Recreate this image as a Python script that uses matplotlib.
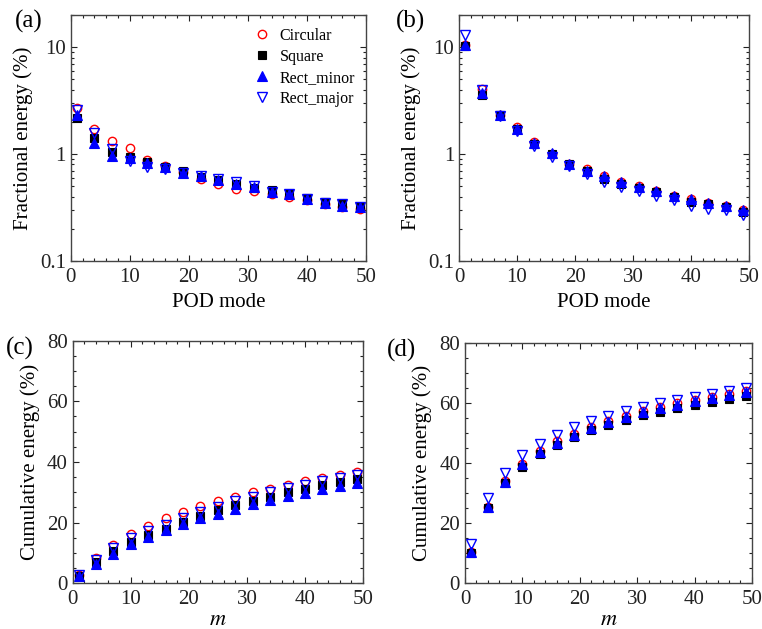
"""POD fractional and cumulative energy, four panels."""

import matplotlib

matplotlib.use("Agg")
import matplotlib.pyplot as plt
from matplotlib.ticker import FixedLocator, FuncFormatter, LogLocator, MultipleLocator, NullFormatter

plt.rcParams["font.family"] = ["Liberation Serif", "DejaVu Serif"]
plt.rcParams["mathtext.fontset"] = "stix"

modes = [1, 4, 7, 10, 13, 16, 19, 22, 25, 28, 31, 34, 37, 40, 43, 46, 49]
labels = ["Circular", "Square", "Rect_minor", "Rect_major"]

# (a) fractional energy
frac_a_circular = [2.7, 1.70, 1.32, 1.14, 0.89, 0.77, 0.68, 0.59, 0.53, 0.47, 0.45, 0.42, 0.40, 0.37, 0.34, 0.32, 0.31]
frac_a_square = [2.2, 1.42, 1.05, 0.94, 0.84, 0.76, 0.70, 0.61, 0.57, 0.52, 0.48, 0.46, 0.42, 0.39, 0.36, 0.34, 0.32]
frac_a_minor = [2.3, 1.28, 0.97, 0.92, 0.83, 0.75, 0.67, 0.62, 0.57, 0.52, 0.49, 0.44, 0.42, 0.38, 0.35, 0.33, 0.32]
frac_a_major = [2.6, 1.59, 1.11, 0.86, 0.76, 0.73, 0.66, 0.62, 0.59, 0.55, 0.50, 0.44, 0.42, 0.38, 0.35, 0.34, 0.32]

# (b) fractional energy
frac_b_circular = [10.5, 4.1, 2.30, 1.78, 1.30, 1.00, 0.80, 0.72, 0.62, 0.55, 0.50, 0.45, 0.41, 0.38, 0.35, 0.33, 0.30]
frac_b_square = [10.2, 3.6, 2.30, 1.70, 1.25, 1.00, 0.80, 0.70, 0.58, 0.53, 0.48, 0.44, 0.40, 0.36, 0.34, 0.32, 0.29]
frac_b_minor = [10.5, 3.7, 2.30, 1.72, 1.27, 1.02, 0.81, 0.70, 0.63, 0.55, 0.49, 0.45, 0.41, 0.38, 0.35, 0.33, 0.30]
frac_b_major = [13.0, 4.0, 2.25, 1.65, 1.18, 0.95, 0.77, 0.65, 0.55, 0.49, 0.45, 0.41, 0.37, 0.33, 0.31, 0.30, 0.27]

# (c) cumulative energy
cum_c_circular = [2.6, 8.3, 12.5, 16.2, 19.0, 21.5, 23.6, 25.5, 27.2, 28.6, 30.0, 31.2, 32.5, 33.6, 34.7, 35.6, 36.6]
cum_c_square = [2.4, 7.0, 10.5, 13.5, 16.0, 18.0, 20.3, 22.3, 24.0, 25.7, 27.2, 28.6, 30.0, 31.2, 32.3, 33.4, 34.5]
cum_c_minor = [2.3, 6.5, 9.8, 12.8, 15.2, 17.5, 19.5, 21.5, 23.0, 24.6, 26.0, 27.5, 28.7, 29.8, 31.0, 32.0, 33.0]
cum_c_major = [2.6, 7.8, 11.5, 14.8, 17.2, 19.3, 21.5, 23.5, 25.3, 27.0, 28.5, 30.0, 31.3, 32.5, 33.7, 34.8, 35.8]

# (d) cumulative energy
cum_d_circular = [10.5, 25.5, 34.0, 39.8, 44.0, 47.3, 49.8, 52.0, 54.0, 55.7, 57.3, 58.6, 59.8, 60.9, 62.0, 63.0, 63.9]
cum_d_square = [10.2, 25.0, 33.3, 38.8, 43.0, 46.0, 48.7, 50.8, 52.7, 54.4, 55.8, 57.1, 58.3, 59.4, 60.4, 61.3, 62.3]
cum_d_minor = [10.4, 25.3, 33.8, 39.5, 43.5, 46.8, 49.3, 51.7, 53.5, 55.3, 56.8, 58.2, 59.4, 60.5, 61.5, 62.6, 63.5]
cum_d_major = [13.0, 28.5, 36.8, 42.7, 46.3, 49.3, 52.1, 54.1, 55.7, 57.4, 58.7, 59.9, 60.9, 62.0, 62.9, 63.9, 64.8]

styles = [
    dict(marker="o", mfc="none", mec="red", ms=6, mew=1.0),
    dict(marker="s", mfc="black", mec="black", ms=5.5, mew=0.8),
    dict(marker="^", mfc="blue", mec="blue", ms=6.5, mew=0.8),
    dict(marker="v", mfc="none", mec="blue", ms=7, mew=1.0),
]


def _style_axis(ax):
    ax.set_xlim(0, 50)
    ax.xaxis.set_major_locator(MultipleLocator(10))
    ax.xaxis.set_minor_locator(MultipleLocator(2))
    ax.tick_params(which="both", direction="in", top=True, right=True, labelsize=15, colors="#222222")
    ax.tick_params(which="major", length=4, width=0.8)
    ax.tick_params(which="minor", length=2.5, width=0.8)
    ax.tick_params(axis="x", pad=5)
    for spine in ax.spines.values():
        spine.set_color("#444444")
        spine.set_linewidth(1.0)


fig = plt.figure(figsize=(7.62, 6.29), dpi=100)
ax_a = fig.add_axes([0.0928, 0.585, 0.3875, 0.3911])
ax_b = fig.add_axes([0.6024, 0.585, 0.3806, 0.3911])
ax_c = fig.add_axes([0.0954, 0.0727, 0.3810, 0.3857])
ax_d = fig.add_axes([0.6102, 0.0727, 0.3766, 0.3825])

panels = [
    (ax_a, [frac_a_circular, frac_a_square, frac_a_minor, frac_a_major]),
    (ax_b, [frac_b_circular, frac_b_square, frac_b_minor, frac_b_major]),
    (ax_c, [cum_c_circular, cum_c_square, cum_c_minor, cum_c_major]),
    (ax_d, [cum_d_circular, cum_d_square, cum_d_minor, cum_d_major]),
]

for ax, series in panels:
    for values, label, style in zip(series, labels, styles):
        ax.plot(modes, values, linestyle="none", label=label, **style)
    _style_axis(ax)

# panel tags, placed in figure pixels like the reference
for tag, px, py in [("(a)", 15, 10), ("(b)", 396, 10), ("(c)", 6, 337), ("(d)", 387, 339)]:
    fig.text(px / 762, 1 - py / 629, tag, fontsize=18, ha="left", va="top")

for ax in (ax_a, ax_b):
    ax.set_yscale("log")
    ax.set_ylim(0.1, 20)
    ax.yaxis.set_major_locator(FixedLocator([0.1, 1, 10]))
    ax.yaxis.set_major_formatter(FuncFormatter(lambda v, _: f"{v:g}"))
    ax.yaxis.set_minor_locator(LogLocator(base=10, subs=range(2, 10), numticks=20))
    ax.yaxis.set_minor_formatter(NullFormatter())
    ax.set_xlabel("POD mode", fontsize=15, labelpad=4)
    ax.set_ylabel("Fractional energy (%)", fontsize=15, labelpad=5)

for ax in (ax_c, ax_d):
    ax.set_ylim(0, 80)
    ax.yaxis.set_major_locator(MultipleLocator(20))
    ax.yaxis.set_minor_locator(MultipleLocator(5))
    ax.set_xlabel("$m$", fontsize=16, labelpad=1)
    ax.set_ylabel("Cumulative energy (%)", fontsize=15, labelpad=5)

ax_a.legend(
    loc="upper right",
    bbox_to_anchor=(0.985, 0.975),
    frameon=False,
    fontsize=11.5,
    handletextpad=0.4,
    borderaxespad=0.0,
    labelspacing=0.32,
    handlelength=1.4,
)

fig.savefig("out.png", dpi=100)
plt.close(fig)
